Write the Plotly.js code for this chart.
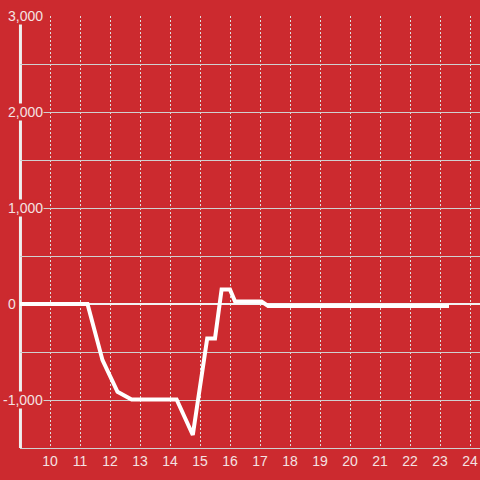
<!DOCTYPE html>
<html>
<head>
<meta charset="utf-8">
<script src="https://cdn.plot.ly/plotly-3.0.1.min.js"></script>
<style>html,body{margin:0;padding:0;background:#cc2a2f;}#chart{width:480px;height:480px;}</style>
</head>
<body>
<div id="chart"></div>
<script>
// Data
var xValues = [9, 11.25, 11.75, 12.25, 12.72, 14.22, 14.76, 15.24, 15.5, 15.72, 16.0, 16.17, 17.05, 17.27, 23.3];
var yValues = [0, 0, -585, -915, -995, -995, -1365, -360, -360, 150, 150, 25, 25, -20, -20];
var xTickVals = [10, 11, 12, 13, 14, 15, 16, 17, 18, 19, 20, 21, 22, 23, 24];
var yLabelVals = [3000, 2000, 1000, 0, -1000];
var yLabelText = ['3,000', '2,000', '1,000', '0', '-1,000'];

var bg = '#cc2a2f';
var textColor = '#f4e2e2';
var font = 'Liberation Sans, Arial, sans-serif';

var annotations = yLabelVals.map(function (v, i) {
  var isZero = v === 0;
  return {
    xref: 'paper', yref: 'y',
    x: isZero ? -0.007 : 0.0525,
    y: v,
    xanchor: 'right', yanchor: 'middle',
    text: yLabelText[i],
    showarrow: false,
    bgcolor: bg,
    borderpad: 0,
    font: {family: font, size: 14, color: textColor}
  };
});

var trace = {
  x: xValues, y: yValues,
  type: 'scatter', mode: 'lines',
  line: {color: '#ffffff', width: 4},
  hoverinfo: 'none'
};

var layout = {
  width: 480, height: 480,
  paper_bgcolor: bg, plot_bgcolor: bg,
  margin: {l: 20, r: 0, t: 16, b: 32},
  showlegend: false,
  font: {family: font, size: 14, color: textColor},
  xaxis: {
    range: [9, 24.3334],
    tickvals: xTickVals,
    ticktext: xTickVals.map(String),
    showgrid: true, gridcolor: '#dedede', gridwidth: 1, griddash: '2px,2px',
    zeroline: false,
    showline: true, linecolor: '#d0d0d0', linewidth: 1,
    ticks: '',
    tickfont: {family: font, size: 14, color: textColor}
  },
  yaxis: {
    range: [-1500, 3000],
    dtick: 500, tick0: 0,
    showgrid: true, gridcolor: '#d0d0d0', gridwidth: 1,
    zeroline: true, zerolinecolor: '#f2f2f2', zerolinewidth: 2.5,
    showline: false,
    showticklabels: false,
    ticks: ''
  },
  shapes: [{
    type: 'line', xref: 'paper', yref: 'paper',
    x0: 0.001, x1: 0.001, y0: 0, y1: 1,
    line: {color: '#efefef', width: 3},
    layer: 'below'
  }],
  annotations: annotations
};

Plotly.newPlot('chart', [trace], layout, {displayModeBar: false, staticPlot: true});
</script>
</body>
</html>
